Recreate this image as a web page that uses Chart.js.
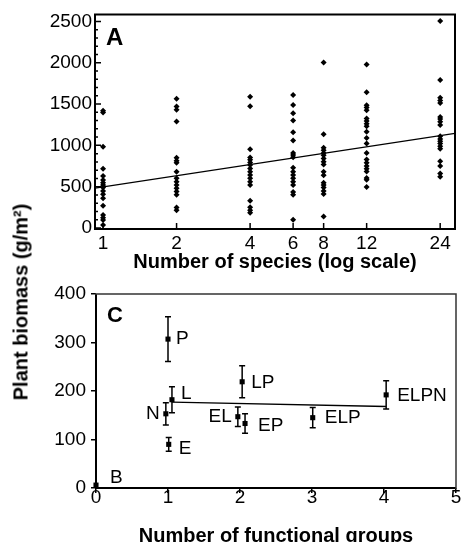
<!DOCTYPE html>
<html><head><meta charset="utf-8">
<script src="https://cdn.jsdelivr.net/npm/chart.js@4/dist/chart.umd.min.js"></script>
<style>
html,body{margin:0;padding:0;background:#fff;width:461px;height:542px;overflow:hidden;position:relative;}
#ca{position:absolute;left:0;top:0;}
#cc{position:absolute;left:0;top:271px;}
#ylab{position:absolute;left:21px;top:302px;transform:translate(-50%,-50%) rotate(-90deg);font:bold 20px "Liberation Sans",Arial,sans-serif;white-space:nowrap;color:#000;}
</style></head><body>
<canvas id="ca" width="461" height="274"></canvas>
<canvas id="cc" width="461" height="277"></canvas>
<div id="ylab">Plant biomass (g/m²)</div>
<script>
// ---------- Panel A data ----------
const speciesLevels = [1, 2, 4, 6, 8, 12, 24];
const biomassS1 = [1418,1398,982,717,629,581,549,521,489,449,409,361,268,156,124,96,36];
const biomassS2 = [1563,1470,1430,1290,849,813,789,681,601,561,521,481,441,401,248,216];
const biomassS4 = [1587,1474,954,853,825,793,761,721,681,641,601,561,521,329,252,216,184];
const biomassS6 = [1611,1490,1390,1302,1158,1058,909,885,857,729,681,641,601,561,521,437,401,100];
const biomassS8 = [2003,1134,970,942,909,881,841,801,769,681,637,549,521,489,449,413,140];
const biomassS12 = [1979,1643,1486,1458,1426,1326,1294,1262,1230,1166,1090,1022,909,829,789,749,717,685,605,585,497];
const biomassS24 = [2504,1791,1575,1543,1514,1342,1318,1286,1246,1110,1078,1050,1022,990,958,809,749,661,621];
const fitAx = [0.927, 27.6];
const fitAy = [482, 1145];
const yTicksA = [0, 500, 1000, 1500, 2000, 2500];

// ---------- Panel C data ----------
const groupNames = ['B','N','P','E','L','EL','LP','EP','ELP','ELPN'];
const groupX = [0, 0.97, 1.0, 1.01, 1.055, 1.97, 2.03, 2.07, 3.01, 4.03];
const groupMean = [6, 153, 307, 90, 182, 147, 219, 133, 145, 192];
const groupErr = [0, 23, 46, 14, 27, 20, 33, 20, 21, 29];
const fitCx = [1.055, 4.03];
const fitCy = [177, 168];
const xTicksC = [0, 1, 2, 3, 4, 5];
const yTicksC = [0, 100, 200, 300, 400];

// label styling (pixel offsets from point, alignment)
const labelDx = [14, -6, 8, 10, 9, -6, 9, 13, 12, 11];
const labelDy = [-7, 0, 0, 4, -6, 0, 1, 2, 0, 1];
const labelAlign = ['left','right','left','left','left','right','left','left','left','left'];

const FONT = "'Liberation Sans', Arial, Helvetica, sans-serif";
Chart.defaults.font.family = FONT;
Chart.defaults.color = '#000';
Chart.defaults.animation = false;

const speciesSeries = [biomassS1, biomassS2, biomassS4, biomassS6, biomassS8, biomassS12, biomassS24];
const scatterA = [];
speciesSeries.forEach((arr, i) => arr.forEach(v => scatterA.push({x: speciesLevels[i], y: v})));

function boxPlugin(opts) {
  return {
    id: 'box' + opts.letter,
    afterDraw(chart) {
      const {ctx, chartArea: a} = chart;
      ctx.save();
      ctx.strokeStyle = '#000';
      ctx.lineWidth = 2;
      ctx.beginPath();
      ctx.moveTo(a.left, a.top); ctx.lineTo(a.left, a.bottom); ctx.lineTo(a.right, a.bottom);
      ctx.stroke();
      ctx.strokeStyle = opts.farColor;
      ctx.lineWidth = opts.farWidth;
      ctx.beginPath();
      ctx.moveTo(a.left - 1, a.top); ctx.lineTo(a.right, a.top); ctx.lineTo(a.right, a.bottom + 1);
      ctx.stroke();
      ctx.fillStyle = '#000';
      ctx.font = 'bold ' + opts.letterSize + 'px ' + FONT;
      ctx.textAlign = 'left';
      ctx.textBaseline = 'alphabetic';
      ctx.fillText(opts.letter, a.left + opts.lx, a.top + opts.ly);
      ctx.restore();
    }
  };
}

const innerTicksA = {
  id: 'innerTicksA',
  afterDraw(chart) {
    const {ctx, chartArea: a, scales} = chart;
    const ys = scales.y, xs = scales.x;
    ctx.save();
    ctx.strokeStyle = '#000';
    ctx.lineWidth = 1.5;
    ctx.beginPath();
    for (let v = 0; v <= 2500; v += 100) {
      const py = ys.getPixelForValue(v);
      const len = (v % 500 === 0) ? 6 : 3;
      ctx.moveTo(a.left, py); ctx.lineTo(a.left + len, py);
    }
    speciesLevels.forEach(s => {
      const px = xs.getPixelForValue(s);
      ctx.moveTo(px, a.bottom); ctx.lineTo(px, a.bottom - 6);
    });
    ctx.stroke();
    ctx.restore();
  }
};

new Chart(document.getElementById('ca'), {
  data: {
    datasets: [
      { type: 'scatter', data: scatterA, pointStyle: 'rectRot', pointRadius: 3,
        backgroundColor: '#000', borderColor: '#000', borderWidth: 0, clip: false },
      { type: 'line', data: fitAx.map((x, i) => ({x, y: fitAy[i]})), borderColor: '#000',
        borderWidth: 1.3, pointRadius: 0, fill: false }
    ]
  },
  options: {
    responsive: false,
    layout: { padding: { top: 14, right: 6, left: 0, bottom: 0 } },
    plugins: { legend: { display: false }, tooltip: { enabled: false } },
    scales: {
      x: {
        type: 'logarithmic', min: fitAx[0], max: fitAx[1],
        afterBuildTicks: s => { s.ticks = speciesLevels.map(v => ({value: v})); },
        afterFit: s => { s.height = 45; },
        grid: { display: false, drawTicks: false }, border: { display: false },
        ticks: { autoSkip: false, maxRotation: 0, padding: 3, font: { size: 19 },
                 callback: v => String(v) },
        title: { display: true, text: 'Number of species (log scale)', padding: 0,
                 font: { size: 20, weight: 'bold' } }
      },
      y: {
        type: 'linear', min: -12, max: 2585,
        afterBuildTicks: s => { s.ticks = yTicksA.map(v => ({value: v})); },
        afterFit: s => { s.width = 95; },
        grid: { display: false, drawTicks: false }, border: { display: false },
        ticks: { padding: 3, font: { size: 19 }, callback: v => String(v) }
      }
    }
  },
  plugins: [innerTicksA, boxPlugin({letter: 'A', letterSize: 24, lx: 11, ly: 31, farColor: '#000', farWidth: 2})]
});

const errLabels = {
  id: 'errLabels',
  afterDatasetsDraw(chart) {
    const {ctx, scales} = chart;
    const xs = scales.x, ys = scales.y;
    ctx.save();
    ctx.strokeStyle = '#000';
    ctx.lineWidth = 1.5;
    groupNames.forEach((n, i) => {
      if (!groupErr[i]) return;
      const px = xs.getPixelForValue(groupX[i]);
      const top = ys.getPixelForValue(groupMean[i] + groupErr[i]);
      const bot = ys.getPixelForValue(groupMean[i] - groupErr[i]);
      ctx.beginPath();
      ctx.moveTo(px, top); ctx.lineTo(px, bot);
      ctx.moveTo(px - 3, top); ctx.lineTo(px + 3, top);
      ctx.moveTo(px - 3, bot); ctx.lineTo(px + 3, bot);
      ctx.stroke();
    });
    ctx.fillStyle = '#000';
    ctx.font = '19px ' + FONT;
    ctx.textBaseline = 'middle';
    groupNames.forEach((n, i) => {
      const px = xs.getPixelForValue(groupX[i]);
      const py = ys.getPixelForValue(groupMean[i]);
      ctx.textAlign = labelAlign[i];
      ctx.fillText(n, px + labelDx[i], py + labelDy[i]);
    });
    ctx.restore();
  }
};

new Chart(document.getElementById('cc'), {
  data: {
    datasets: [
      { type: 'scatter', data: groupX.map((x, i) => ({x, y: groupMean[i]})), pointStyle: 'rect',
        pointRadius: 3.6, backgroundColor: '#000', borderColor: '#000', borderWidth: 0, clip: false },
      { type: 'line', data: fitCx.map((x, i) => ({x, y: fitCy[i]})), borderColor: '#000',
        borderWidth: 1.3, pointRadius: 0, fill: false }
    ]
  },
  options: {
    responsive: false,
    layout: { padding: { top: 23, right: 5, left: 0, bottom: 0 } },
    plugins: { legend: { display: false }, tooltip: { enabled: false } },
    scales: {
      x: {
        type: 'linear', min: 0, max: 5,
        afterBuildTicks: s => { s.ticks = xTicksC.map(v => ({value: v})); },
        afterFit: s => { s.height = 60; },
        grid: { display: true, drawOnChartArea: false, drawTicks: true, tickLength: 5, color: '#000', lineWidth: 1.5 },
        border: { display: false },
        ticks: { autoSkip: false, maxRotation: 0, padding: -7, font: { size: 19 } },
        title: { display: true, text: 'Number of functional groups', padding: 0,
                 font: { size: 20, weight: 'bold' } }
      },
      y: {
        type: 'linear', min: 0, max: 400,
        afterBuildTicks: s => { s.ticks = yTicksC.map(v => ({value: v})); },
        afterFit: s => { s.width = 96; },
        grid: { display: true, drawOnChartArea: false, drawTicks: true, tickLength: 5, color: '#000', lineWidth: 1.5 },
        border: { display: false },
        ticks: { padding: 5, font: { size: 19 } }
      }
    }
  },
  plugins: [errLabels, boxPlugin({letter: 'C', letterSize: 22, lx: 11, ly: 28, farColor: '#333', farWidth: 1.5})]
});
</script>
</body></html>
